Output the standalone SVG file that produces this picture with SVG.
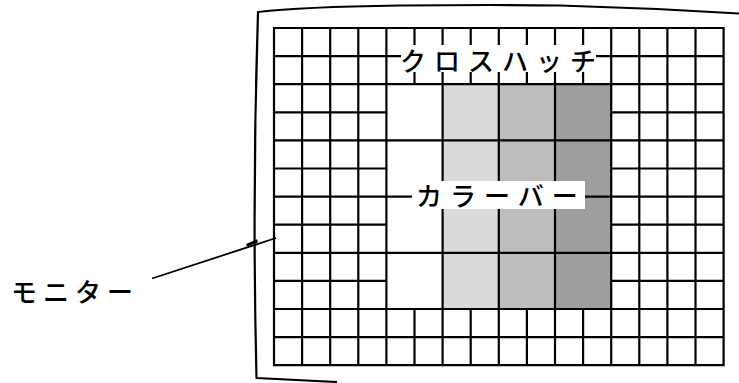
<svg xmlns="http://www.w3.org/2000/svg" width="739" height="383" viewBox="0 0 739 383">
<style>
.ln{stroke:#000;stroke-width:2.2;fill:none;stroke-linecap:square}
.fr{stroke:#000;stroke-width:2.2;fill:none;stroke-linejoin:round}
.lbl{font-family:"Noto Sans CJK JP","Noto Sans CJK SC",sans-serif;font-size:26px;font-weight:500;letter-spacing:8px;fill:#000}
.box{fill:#fff}
</style>
<rect width="739" height="383" fill="#fff"/>
<g id="monitor-frame">
<path class="fr" d="M337,382 L256.5,378 Q252,195 258,12 Q300,7 400,5.5 Q500,4.5 560,5.5 Q650,8 739,13.5"/>
</g>
<g id="color-bars">
<rect x="386.4" y="84.2" width="56.2" height="224.8" fill="#fff"/>
<rect x="442.6" y="84.2" width="56.2" height="224.8" fill="#dadada"/>
<rect x="498.8" y="84.2" width="56.2" height="224.8" fill="#bdbdbd"/>
<rect x="555" y="84.2" width="56.2" height="224.8" fill="#9e9e9e"/>
</g>
<g id="crosshatch-grid">
<path class="ln" d="M274,28V365.2 M302.1,28V365.2 M330.2,28V365.2 M358.3,28V365.2 M386.4,28V365.2 M442.6,28V365.2 M498.8,28V365.2 M555,28V365.2 M611.2,28V365.2 M639.3,28V365.2 M667.4,28V365.2 M695.5,28V365.2 M723.6,28V365.2
M414.5,28V84.2 M470.7,28V84.2 M526.9,28V84.2 M583.1,28V84.2
M414.5,309V365.2 M470.7,309V365.2 M526.9,309V365.2 M583.1,309V365.2
M274,28H723.6 M274,56.1H723.6 M274,84.2H723.6 M274,140.4H723.6 M274,196.6H723.6 M274,252.8H723.6 M274,309H723.6 M274,337.1H723.6 M274,365.2H723.6
M274,112.3H386.4 M274,168.5H386.4 M274,224.7H386.4 M274,280.9H386.4
M611.2,112.3H723.6 M611.2,168.5H723.6 M611.2,224.7H723.6 M611.2,280.9H723.6"/>
</g>
<g id="label-crosshatch">
<rect class="box" x="401" y="45" width="195" height="27"/>
<text class="lbl" x="400" y="71">クロスハッチ</text>
</g>
<g id="label-colorbar">
<rect class="box" x="412" y="181" width="173" height="28"/>
<text class="lbl" x="416" y="206">カラーバー</text>
</g>
<g id="label-monitor">
<text class="lbl" x="11" y="302" style="letter-spacing:6px">モニター</text>
</g>
<g id="connectors">
<line x1="152" y1="278.5" x2="276" y2="238" stroke="#000" stroke-width="1.8"/>
<polygon points="246,244 257,239.2 258,242.3 247,246.8" fill="#000"/>
</g>
</svg>
